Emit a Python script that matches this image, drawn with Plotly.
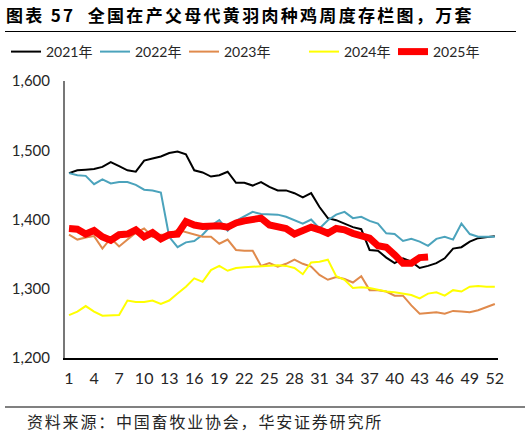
import plotly.graph_objects as go

weeks = list(range(1, 53))

y2021 = [1467, 1471, 1472, 1473, 1476, 1483, 1477, 1471, 1469, 1485, 1488, 1491, 1496, 1498, 1494, 1471,
         1468, 1462, 1464, 1469, 1453, 1453, 1449, 1454, 1447, 1442, 1442, 1438, 1432, 1438, 1418, 1402,
         1399, 1394, 1389, 1386, 1356, 1355, 1345, 1337, 1344, 1339, 1330, 1333, 1337, 1344, 1358, 1360,
         1368, 1373, 1375, 1376]
y2022 = [1467, 1464, 1463, 1451, 1458, 1452, 1454, 1454, 1450, 1443, 1442, 1439, 1375, 1360, 1367, 1369,
         1378, 1391, 1399, 1384, 1398, 1405, 1411, 1408, 1408, 1407, 1404, 1399, 1394, 1400, 1387, 1399,
         1407, 1411, 1402, 1404, 1398, 1394, 1380, 1379, 1369, 1372, 1368, 1362, 1372, 1375, 1371, 1394,
         1379, 1375, 1375, 1375]
y2023 = [1378, 1371, 1374, 1376, 1358, 1373, 1361, 1371, 1381, 1387, 1375, 1378, 1378, 1385, 1382, 1378,
         1375, 1375, 1365, 1371, 1356, 1355, 1355, 1333, 1337, 1332, 1336, 1342, 1336, 1332, 1320, 1313,
         1317, 1314, 1309, 1318, 1298, 1298, 1296, 1290, 1290, 1276, 1264, 1265, 1266, 1264, 1268, 1267,
         1266, 1269, 1273, 1278]
y2024 = [1262, 1267, 1275, 1267, 1261, 1262, 1262, 1283, 1281, 1281, 1283, 1278, 1283, 1293, 1303, 1315,
         1310, 1327, 1333, 1326, 1330, 1331, 1332, 1333, 1334, 1334, 1333, 1330, 1321, 1338, 1339, 1342,
         1318, 1313, 1301, 1302, 1301, 1298, 1296, 1295, 1293, 1291, 1286, 1293, 1295, 1290, 1298, 1296,
         1303, 1304, 1303, 1303]
y2025 = [1387, 1386, 1379, 1384, 1375, 1370, 1378, 1379, 1385, 1375, 1381, 1372, 1378, 1379, 1397, 1392,
         1390, 1391, 1391, 1389, 1395, 1398, 1399, 1402, 1392, 1389, 1387, 1379, 1384, 1389, 1385, 1380,
         1387, 1385, 1380, 1377, 1373, 1362, 1360, 1349, 1337, 1337, 1345, 1346]

# name, values, colour, width, which legend box
series = [
    ("2021年", y2021, "#000000", 2, "legend"),
    ("2022年", y2022, "#4BA3BC", 2, "legend"),
    ("2023年", y2023, "#E08A4C", 2, "legend"),
    ("2024年", y2024, "#FFFF00", 2, "legend2"),
    ("2025年", y2025, "#FF0000", 7, "legend2"),
]

xticks = list(range(1, 53, 3))
yticks = [1200, 1300, 1400, 1500, 1600]

fig = go.Figure()
for name, vals, color, width, leg in series:
    fig.add_trace(go.Scatter(x=weeks[:len(vals)], y=vals, mode="lines", name=name, legend=leg,
                             line=dict(color=color, width=width)))

legend_style = dict(orientation="h", xref="container", xanchor="left",
                    y=(358 - 52) / 277, yref="paper", yanchor="middle",
                    entrywidth=44, entrywidthmode="pixels",
                    font=dict(family="Lato, Noto Sans CJK SC", size=14, color="#262626"))

fig.update_layout(
    width=531, height=437,
    margin=dict(l=65, r=33, t=81, b=79, autoexpand=False),
    paper_bgcolor="white", plot_bgcolor="white",
    font=dict(family="Lato, Noto Sans CJK SC", size=15, color="#262626"),
    title=dict(text="<b>图表 57  全国在产父母代黄羽肉种鸡周度存栏图，万套</b>",
               x=6 / 531, xanchor="left", xref="container",
               y=1 - 16 / 437, yanchor="middle", yref="container",
               font=dict(family="Noto Sans CJK SC", size=17, color="#000000")),
    legend=dict(legend_style, x=6 / 531),
    legend2=dict(legend_style, x=304 / 531),
    showlegend=True,
)

fig.update_xaxes(range=[0.52, 52.38], tickvals=xticks, ticks="", showgrid=False, zeroline=False,
                 showline=True, linecolor="#000000", linewidth=2, ticklabelstandoff=5,
                 tickfont=dict(size=16))
fig.update_yaxes(range=[1200, 1600], tickvals=yticks, tickformat=",", ticks="", showgrid=False,
                 zeroline=False, showline=True, linecolor="#777777", linewidth=2,
                 ticklabelstandoff=10, tickfont=dict(size=15))

# rules under the title and above the source note
fig.add_shape(type="line", xref="paper", yref="paper",
              x0=(5 - 65) / 433, x1=(516 - 65) / 433, y0=(358 - 31.5) / 277, y1=(358 - 31.5) / 277,
              line=dict(color="#000000", width=1))
fig.add_shape(type="line", xref="paper", yref="paper",
              x0=(5 - 65) / 433, x1=(525 - 65) / 433, y0=(358 - 407) / 277, y1=(358 - 407) / 277,
              line=dict(color="#808080", width=2))

fig.add_annotation(text="资料来源：中国畜牧业协会，华安证券研究所", xref="paper", yref="paper",
                   x=(25 - 65) / 433, y=(358 - 421) / 277, xanchor="left", yanchor="middle",
                   align="left", showarrow=False,
                   font=dict(family="Noto Sans CJK SC", size=16, color="#262626"))

# widen the letter spacing of title and source note like the original report
js = ("document.body.style.margin='0';"
      "var t=document.querySelector('.gtitle');if(t){t.style.letterSpacing='2.3px';}"
      "var a=document.querySelector('.annotation-text');"
      "if(a){a.style.letterSpacing='1.8px';}")

fig.write_html("out.html", post_script=js, config={"displayModeBar": False})
